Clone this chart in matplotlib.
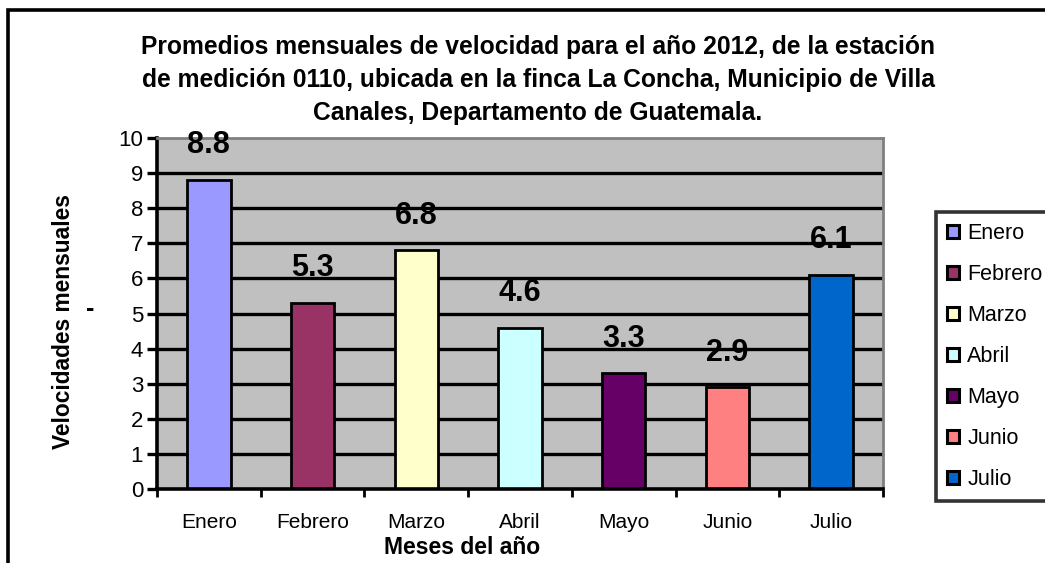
import matplotlib.pyplot as plt
from matplotlib.patches import Rectangle

plt.rcParams['font.family'] = ['Liberation Sans', 'DejaVu Sans']

meses = ['Enero', 'Febrero', 'Marzo', 'Abril', 'Mayo', 'Junio', 'Julio']
velocidades = [8.8, 5.3, 6.8, 4.6, 3.3, 2.9, 6.1]
colores = ['#9999FF', '#993366', '#FFFFCC', '#CCFFFF', '#660066', '#FF8080', '#0066CC']
titulo = ('Promedios mensuales de velocidad para el año 2012, de la estación\n'
          'de medición 0110, ubicada en la finca La Concha, Municipio de Villa\n'
          'Canales, Departamento de Guatemala.')

W, H = 1045, 563
fig = plt.figure(figsize=(W / 100, H / 100), dpi=100)

def fx(px):
    return px / W

def fy(py):
    return 1 - py / H

ax = fig.add_axes([fx(157), fy(489), fx(883) - fx(157), fy(138) - fy(489)])
ax.set_facecolor('#C0C0C0')

x = list(range(len(meses)))
ax.set_xlim(-0.5, len(meses) - 0.5)
ax.set_ylim(0, 10)

# horizontal grid first so the bars cover it
for v in range(1, 10):
    ax.axhline(v, color='black', lw=2.4, zorder=1)

barras = ax.bar(x, velocidades, width=0.42, color=colores, edgecolor='black',
                linewidth=2, zorder=2)

for xi, v in zip(x, velocidades):
    ax.text(xi, v + 0.56, f'{v:.1f}', ha='center', va='bottom', fontsize=22,
            fontweight='bold', zorder=3)

ax.set_yticks(range(0, 11))
ax.set_yticklabels([str(v) for v in range(0, 11)], fontsize=16)
ax.set_xticks(x)
ax.set_xticklabels(meses, fontsize=15)
ax.tick_params(axis='x', length=0, pad=17)
ax.set_xticks([i - 0.5 for i in range(len(meses) + 1)], minor=True)
ax.tick_params(axis='x', which='minor', length=6, width=2, direction='out')
ax.tick_params(axis='y', length=7, width=2.4, direction='out', pad=3)

for lado in ['left', 'bottom']:
    ax.spines[lado].set_linewidth(2.6)
    ax.spines[lado].set_color('black')
for lado in ['top', 'right']:
    ax.spines[lado].set_linewidth(2)
    ax.spines[lado].set_color('#808080')

fig.text(fx(538), fy(80), titulo, ha='center', va='center', fontsize=17.7,
         fontweight='bold', linespacing=1.45)
fig.text(fx(462), fy(548), 'Meses del año', ha='center', va='center',
         fontsize=16.5, fontweight='bold')
fig.text(fx(63), fy(322), 'Velocidades mensuales', ha='center', va='center',
         rotation=90, fontsize=16.4, fontweight='bold')
fig.text(fx(90), fy(309), '-', ha='center', va='center', fontsize=18,
         fontweight='bold')

leg = fig.legend(barras, meses, loc='upper left',
                 bbox_to_anchor=(fx(936), fy(212)), fontsize=15.5,
                 frameon=True, fancybox=False, handlelength=0.55,
                 handleheight=0.55, handletextpad=0.4, labelspacing=0.93,
                 borderpad=0.5, borderaxespad=0)
leg.get_frame().set_edgecolor('black')
leg.get_frame().set_linewidth(2.6)
for h in leg.legend_handles:
    h.set_linewidth(2.2)

# outer frame of the chart area
fig.patches.append(Rectangle((fx(8), fy(580)), fx(1060) - fx(8), fy(10) - fy(580),
                             transform=fig.transFigure, fill=False,
                             edgecolor='black', lw=2.6))

fig.savefig('out.png', dpi=100)
